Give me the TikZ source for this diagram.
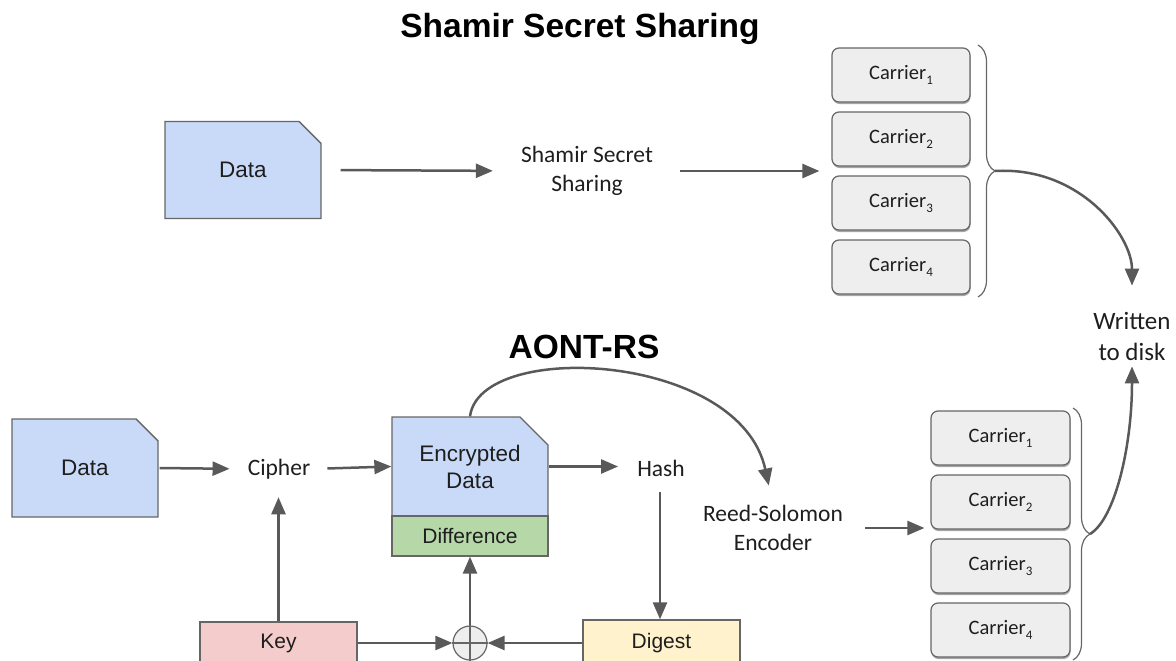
\documentclass[tikz,border=0pt]{standalone}
\usepackage{fontspec}
\setmainfont{Liberation Sans}
\newfontfamily\calib{Carlito}
\usetikzlibrary{arrows.meta,shapes.misc,decorations.pathreplacing,shadows}
\definecolor{lineg}{HTML}{666666}
\definecolor{arrg}{HTML}{595959}
\definecolor{txt}{HTML}{1E1E1E}
\definecolor{bluef}{HTML}{C9DAF8}
\definecolor{greenf}{HTML}{B6D7A8}
\definecolor{pinkf}{HTML}{F4CCCC}
\definecolor{yellowf}{HTML}{FFF2CC}
\definecolor{carf}{HTML}{EEEEEE}
\newcommand\csub[1]{\raisebox{-0.55ex}{\fontsize{13}{13}\selectfont #1}}
\begin{document}
\begin{tikzpicture}[x=1pt,y=-1pt,
  box/.style={draw=lineg, line width=1.3pt, inner sep=0pt, align=center, text=txt,
    font=\fontsize{22.5}{27}\selectfont},
  docbox/.style={box, chamfered rectangle, chamfered rectangle corners=north east,
    chamfered rectangle xsep=14pt, chamfered rectangle ysep=14pt, fill=bluef},
  carrier/.style={draw=lineg, line width=1.2pt, fill=carf, rounded corners=7pt,
    minimum width=138pt, minimum height=54pt, inner sep=0pt, text=txt,
    font=\calib\fontsize{20.5}{24}\selectfont,
    drop shadow={shadow xshift=0.5pt, shadow yshift=-2pt, opacity=0.35, fill=black}},
  lbl/.style={inner sep=0pt, align=center, text=txt, font=\calib\fontsize{23.5}{29}\selectfont},
  ttl/.style={inner sep=0pt, text=black, font=\bfseries\fontsize{33.5}{40}\selectfont, anchor=base},
  arr/.style={draw=arrg, line width=2.5pt, -{Triangle[length=17pt,width=14pt]}},
  bracestyle/.style={draw=lineg, line width=1.2pt, decorate,
    decoration={brace, amplitude=17pt, aspect=0.5}}
]
\path[use as bounding box] (0,0) rectangle (1176,661);
\clip (0,0) rectangle (1176,661);

% ---------- Shamir part ----------
\node[ttl] (t1) at (580,38) {Shamir Secret Sharing};
\node[docbox, minimum width=156pt, minimum height=97pt] (data1) at (243,170) {Data};
\node[lbl] (shamir) at (587,171) {Shamir Secret\\Sharing};
\foreach \i/\y in {1/75,2/139,3/203,4/267}{
  \node[carrier] (ct\i) at (901,\y) {Carrier\csub{\i}};
}
\draw[bracestyle] (978,45) -- (978,297);
\coordinate (tipT) at (995,171);

\draw[arr, shorten <=19pt, shorten >=28pt] (data1.east) -- (shamir.west);
\draw[arr, shorten <=27pt, shorten >=12pt] (shamir.east) -- (shamir.east -| ct1.west);

% ---------- Written to disk ----------
\node[lbl, font=\calib\fontsize{25}{31}\selectfont, inner ysep=6pt] (written) at (1132,336) {Written\\to disk};
\draw[arr, shorten >=20pt] (tipT) .. controls +(85,-5) and +(0,-70) .. (written.north);

% ---------- AONT-RS part ----------
\node[ttl] (t2) at (584,358) {AONT-RS};
\node[docbox, minimum width=146pt, minimum height=98pt] (data2) at (85,468) {Data};
\node[lbl] (cipher) at (279,469) {Cipher};
\node[docbox, minimum width=156pt, minimum height=99pt] (enc) at (470,466.5) {Encrypted\\Data};
\node[box, fill=greenf, minimum width=156pt, minimum height=40pt,
  font=\fontsize{21}{25}\selectfont] (diff) at (470,536) {Difference};
\node[lbl] (hash) at (661,468) {Hash};
\node[lbl] (rs) at (773,528) {Reed-Solomon\\Encoder};
\node[box, fill=pinkf, minimum width=157pt, minimum height=42pt,
  font=\fontsize{21}{25}\selectfont] (key) at (278.5,643) {Key};
\node[box, fill=yellowf, minimum width=157pt, minimum height=46pt,
  font=\fontsize{21}{25}\selectfont] (digest) at (661.5,643) {Digest};
\node[circle, draw=lineg, line width=1.2pt, fill=carf, minimum size=34pt, inner sep=0pt] (xor) at (470,643) {};
\draw[lineg, line width=1.2pt] (xor.north) -- (xor.south) (xor.west) -- (xor.east);

\foreach \i/\y in {1/438,2/502,3/566,4/630}{
  \node[carrier, minimum width=139pt] (cb\i) at (1000.5,\y) {Carrier\csub{\i}};
}
\draw[bracestyle] (1073,408) -- (1073,660);
\coordinate (tipB) at (1090,534);

\draw[arr, shorten <=1pt, shorten >=18pt] (data2.east) -- (cipher.west);
\draw[arr, shorten <=17pt] (cipher.east) -- (enc.west);
\draw[arr, shorten >=18pt] (key.north) -- (key.north |- cipher.south);
\draw[arr, shorten >=19pt] (enc.east) -- (enc.east -| hash.west);
\draw[arr, shorten <=16pt] (hash.south -| 660,0) -- (digest.north -| 660,0);
\draw[arr] (key.east) -- (xor.west);
\draw[arr] (digest.west) -- (xor.east);
\draw[arr] (xor.north) -- (diff.south);
\draw[arr, shorten >=20pt] (enc.north) .. controls +(10,-77) and +(-33,-153) .. (rs.north);
\draw[arr, shorten <=22pt, shorten >=6pt] (rs.east) -- (rs.east -| cb1.west);
\draw[arr] (tipB) .. controls +(25,-15) and +(0,80) .. (written.south);
\end{tikzpicture}
\end{document}
